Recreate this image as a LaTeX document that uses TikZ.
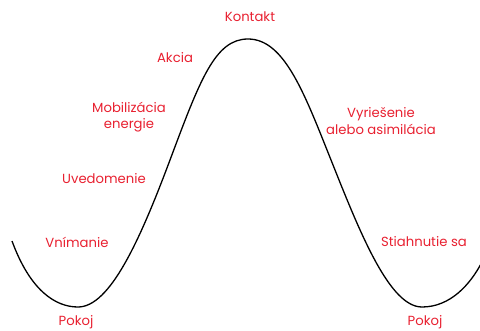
\documentclass[tikz,border=0pt]{standalone}
\usepackage{fontspec}
\setmainfont{Poppins}
\definecolor{lblred}{RGB}{232,32,48}
\begin{document}
\begin{tikzpicture}[x=1pt,y=-1pt,
  lbl/.style={text=lblred,font=\fontsize{13.2}{16.5}\selectfont,align=center,inner sep=0pt},
  curve/.style={line width=1.3pt,black}]
\useasboundingbox (0,0) rectangle (480,330);
\coordinate (s) at (12,241);
\coordinate (m1) at (78,307);
\coordinate (i1) at (170,160);
\coordinate (p) at (248,39);
\coordinate (i2) at (333,165);
\coordinate (m2) at (422,307);
\coordinate (e) at (482,262);
\draw[curve] (s) .. controls (30,290) and (55,307) .. (m1)
  .. controls (110,307) and (140,240) .. (i1)
  .. controls (200,80) and (215,39) .. (p)
  .. controls (285,39) and (305,95) .. (i2)
  .. controls (361,235) and (390,307) .. (m2)
  .. controls (450,307) and (470,285) .. (e);
\node[lbl] (kontakt) at (250,17) {Kontakt};
\node[lbl] (akcia) at (175,58) {Akcia};
\node[lbl] (mob) at (129,117) {Mobilizácia\\energie};
\node[lbl] (uved) at (104,179) {Uvedomenie};
\node[lbl] (vnim) at (77,242) {Vnímanie};
\node[lbl] (pokoj1) at (76,322) {Pokoj};
\node[lbl] (vyr) at (381,121) {Vyriešenie\\alebo asimilácia};
\node[lbl] (stiah) at (424,242) {Stiahnutie sa};
\node[lbl] (pokoj2) at (425,322) {Pokoj};
\end{tikzpicture}
\end{document}
